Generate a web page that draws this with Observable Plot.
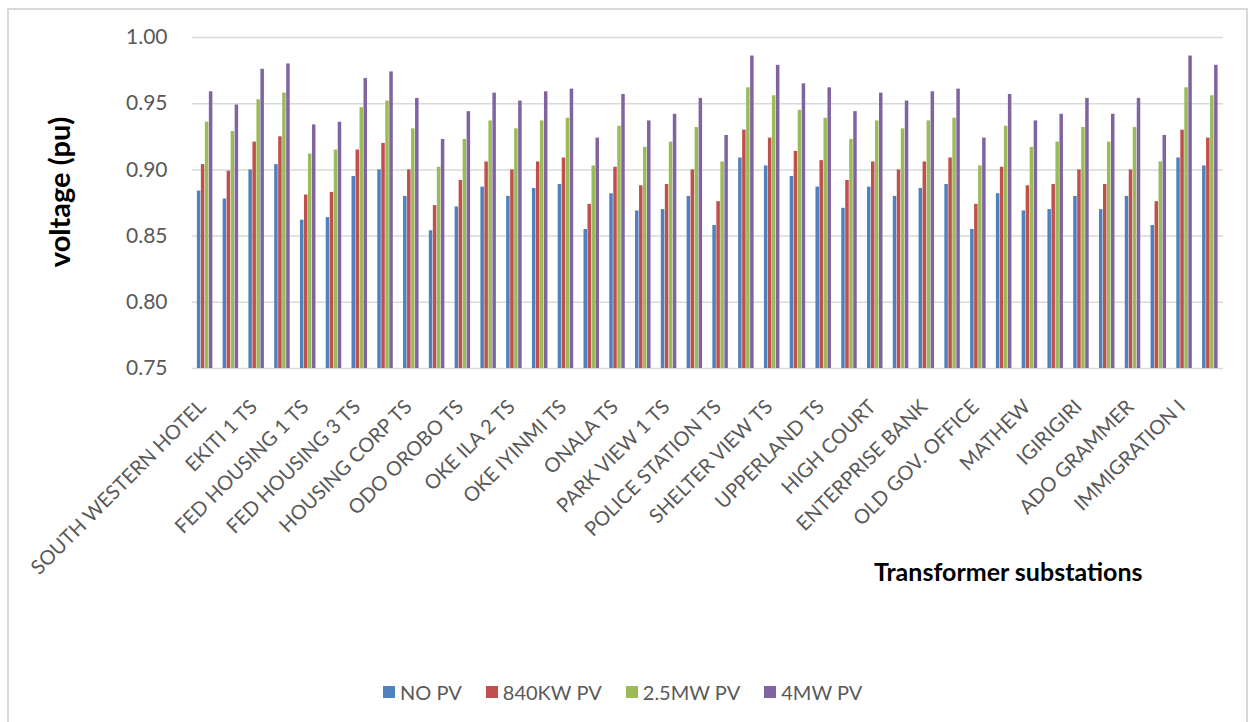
<!DOCTYPE html>
<html>
<head>
<meta charset="utf-8">
<script src="https://cdn.jsdelivr.net/npm/d3@7"></script>
<script src="https://cdn.jsdelivr.net/npm/@observablehq/plot@0.6"></script>
<style>
  html, body { margin: 0; padding: 0; background: #fff; }
  body { width: 1259px; height: 722px; position: relative; overflow: hidden; font-family: Lato, "Open Sans", sans-serif; }
  #frame { position: absolute; left: 7px; top: 8px; width: 1241px; height: 740px; border: 2px solid #d9d9d9; box-sizing: border-box; }
  .layer { position: absolute; left: 0; top: 0; }
  #legend { position: absolute; left: 383px; top: 680px; display: flex; align-items: center; font-size: 20px; color: #595959; white-space: nowrap; }
  #legend .item { display: flex; align-items: center; margin-right: 24px; }
  #legend .sw { width: 12px; height: 12px; margin-right: 5px; }
</style>
</head>
<body>
<div id="frame"></div>
<div id="grid" class="layer"></div>
<div id="chart" class="layer"></div>
<div id="legend"></div>
<script>
// Transformer substations, in feeder order (only every other one carries a tick label)
const stations = [
  "SOUTH WESTERN HOTEL", "TS-02", "EKITI 1 TS", "TS-04", "FED HOUSING 1 TS", "TS-06",
  "FED HOUSING 3 TS", "TS-08", "HOUSING CORP TS", "TS-10", "ODO OROBO TS", "TS-12",
  "OKE ILA 2 TS", "TS-14", "OKE IYINMI TS", "TS-16", "ONALA TS", "TS-18",
  "PARK VIEW 1 TS", "TS-20", "POLICE STATION TS", "TS-22", "SHELTER VIEW TS", "TS-24",
  "UPPERLAND TS", "TS-26", "HIGH COURT", "TS-28", "ENTERPRISE BANK", "TS-30",
  "OLD GOV. OFFICE", "TS-32", "MATHEW", "TS-34", "IGIRIGIRI", "TS-36",
  "ADO GRAMMER", "TS-38", "IMMIGRATION I", "TS-40"
];

// Station names shown on the category axis
const tickLabels = [
  "SOUTH WESTERN HOTEL", "EKITI 1 TS", "FED HOUSING 1 TS", "FED HOUSING 3 TS",
  "HOUSING CORP TS", "ODO OROBO TS", "OKE ILA 2 TS", "OKE IYINMI TS", "ONALA TS",
  "PARK VIEW 1 TS", "POLICE STATION TS", "SHELTER VIEW TS", "UPPERLAND TS",
  "HIGH COURT", "ENTERPRISE BANK", "OLD GOV. OFFICE", "MATHEW", "IGIRIGIRI",
  "ADO GRAMMER", "IMMIGRATION I"
];

const seriesNames = ["NO PV", "840KW PV", "2.5MW PV", "4MW PV"];
const seriesColors = ["#4F81BD", "#C0504D", "#9BBB59", "#8064A2"];

// Bus voltage (pu) per station for each PV scenario
const noPV = [
  0.884, 0.878, 0.900, 0.904, 0.862, 0.864, 0.895, 0.900, 0.880, 0.854,
  0.872, 0.887, 0.880, 0.886, 0.889, 0.855, 0.882, 0.869, 0.870, 0.880,
  0.858, 0.909, 0.903, 0.895, 0.887, 0.871, 0.887, 0.880, 0.886, 0.889,
  0.855, 0.882, 0.869, 0.870, 0.880, 0.870, 0.880, 0.858, 0.909, 0.903
];
const pv840kW = [
  0.904, 0.899, 0.921, 0.925, 0.881, 0.883, 0.915, 0.920, 0.900, 0.873,
  0.892, 0.906, 0.900, 0.906, 0.909, 0.874, 0.902, 0.888, 0.889, 0.900,
  0.876, 0.930, 0.924, 0.914, 0.907, 0.892, 0.906, 0.900, 0.906, 0.909,
  0.874, 0.902, 0.888, 0.889, 0.900, 0.889, 0.900, 0.876, 0.930, 0.924
];
const pv2_5MW = [
  0.936, 0.929, 0.953, 0.958, 0.912, 0.915, 0.947, 0.952, 0.931, 0.902,
  0.923, 0.937, 0.931, 0.937, 0.939, 0.903, 0.933, 0.917, 0.921, 0.932,
  0.906, 0.962, 0.956, 0.945, 0.939, 0.923, 0.937, 0.931, 0.937, 0.939,
  0.903, 0.933, 0.917, 0.921, 0.932, 0.921, 0.932, 0.906, 0.962, 0.956
];
const pv4MW = [
  0.959, 0.949, 0.976, 0.980, 0.934, 0.936, 0.969, 0.974, 0.954, 0.923,
  0.944, 0.958, 0.952, 0.959, 0.961, 0.924, 0.957, 0.937, 0.942, 0.954,
  0.926, 0.986, 0.979, 0.965, 0.962, 0.944, 0.958, 0.952, 0.959, 0.961,
  0.924, 0.957, 0.937, 0.942, 0.954, 0.942, 0.954, 0.926, 0.986, 0.979
];

const yTicks = [0.75, 0.80, 0.85, 0.90, 0.95, 1.00];

const seriesValues = [noPV, pv840kW, pv2_5MW, pv4MW];
const rows = stations.flatMap((station, i) =>
  seriesNames.map((series, s) => ({station, series, value: seriesValues[s][i]}))
);

const ink = "#595959";
const frameLayout = {
  width: 1259,
  height: 640,
  marginLeft: 192,
  marginRight: 36,
  marginTop: 37,
  marginBottom: 272
};
const fontStyle = {fontFamily: "Lato, 'Open Sans', sans-serif", fontSize: "21px", background: "transparent"};

// Background layer: value axis and its horizontal gridlines across the whole plot area
const grid = Plot.plot({
  ...frameLayout,
  style: fontStyle,
  y: {domain: [0.75, 1.0]},
  marks: [
    Plot.ruleY(yTicks, {stroke: "#d9d9d9", strokeWidth: 1.5}),
    Plot.axisY({
      ticks: yTicks, tickFormat: (d) => d.toFixed(2), tickSize: 0, tickPadding: 25,
      color: ink, fontSize: 21, label: null
    }),
    Plot.text(["voltage (pu)"], {
      frameAnchor: "left", textAnchor: "middle", rotate: -90, dx: -132, dy: -11,
      fontWeight: "bold", fontSize: 29, fill: "#000"
    }),
    Plot.text(["Transformer substations"], {
      frameAnchor: "bottom-right", textAnchor: "end", dx: -81, dy: 212,
      fontWeight: "bold", fontSize: 25, fill: "#000"
    })
  ]
});
document.getElementById("grid").append(grid);

// Foreground layer: grouped bars, one facet per substation
const chart = Plot.plot({
  ...frameLayout,
  style: fontStyle,
  fx: {domain: stations, paddingInner: 0.28, paddingOuter: 0.14},
  x: {domain: seriesNames, padding: 0, axis: null},
  y: {domain: [0.75, 1.0], axis: null},
  color: {domain: seriesNames, range: seriesColors},
  marks: [
    Plot.barY(rows, {
      fx: "station", x: "series", y: "value", fill: "series",
      insetLeft: 0.25, insetRight: 0.25, clip: true
    }),
    Plot.axisFx({
      anchor: "bottom", ticks: tickLabels, tickRotate: -45, tickSize: 0, tickPadding: 35,
      dx: -3, color: ink, fontSize: 20, label: null
    })
  ]
});
document.getElementById("chart").append(chart);

// Series legend beneath the chart
const legend = document.getElementById("legend");
seriesNames.forEach((name, i) => {
  const item = document.createElement("div");
  item.className = "item";
  const sw = document.createElement("div");
  sw.className = "sw";
  sw.style.background = seriesColors[i];
  const label = document.createElement("span");
  label.textContent = name;
  item.append(sw, label);
  legend.append(item);
});
</script>
</body>
</html>
